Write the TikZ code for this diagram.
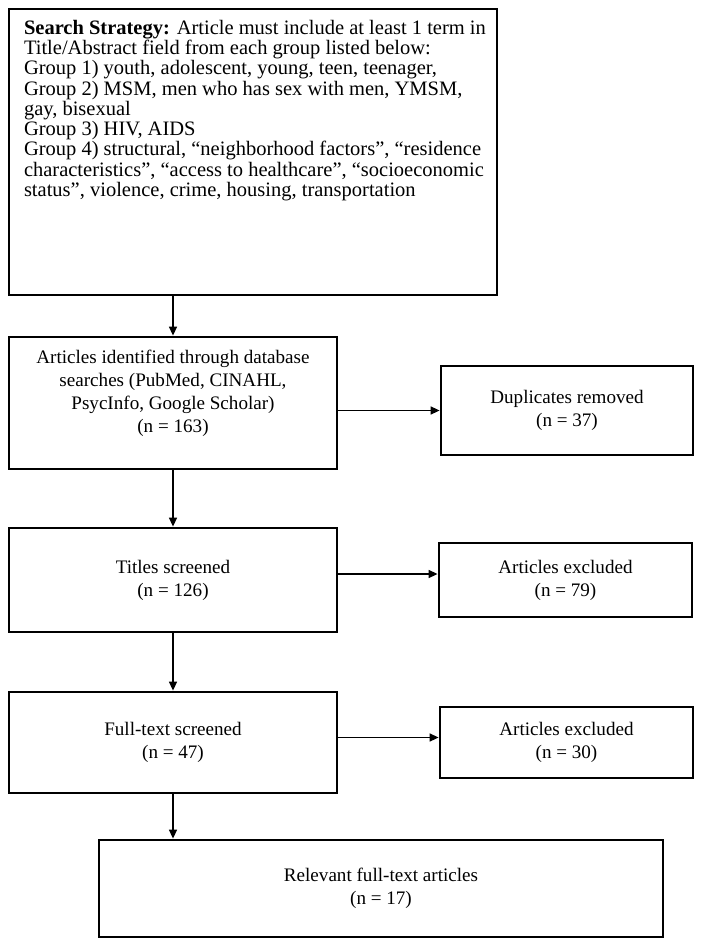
\documentclass[tikz,border=0pt]{standalone}
\usepackage{fontspec}
\setmainfont{Liberation Serif}
\usetikzlibrary{arrows.meta}

\begin{document}
\begin{tikzpicture}[x=1pt,y=-1pt]
\useasboundingbox (0,0) rectangle (704,947);
\begin{scope}[every node/.style={rectangle,draw,line width=2.8pt,inner sep=0pt,align=center,
                                 font=\fontsize{19.1}{23}\selectfont}]
    \node[minimum width=488pt,minimum height=286pt] (search) at (253,152)
        {\parbox[c][264pt][t]{458pt}{\fontsize{20.5}{20}\selectfont\begin{tabular}[t]{@{}l@{}}
        \textbf{Search Strategy:} Article must include at least 1 term in\\
        Title/Abstract field from each group listed below:\\
        Group 1) youth, adolescent, young, teen, teenager,\\
        Group 2) MSM, men who has sex with men, YMSM,\\
        gay, bisexual\\
        Group 3) HIV, AIDS\\
        Group 4) structural, “neighborhood factors”, “residence\\
        characteristics”, “access to healthcare”, “socioeconomic\\
        status”, violence, crime, housing, transportation
        \end{tabular}}};
    \node[minimum width=328pt,minimum height=132pt] (ident) at (173,403)
        {Articles identified through database\\searches (PubMed, CINAHL,\\PsycInfo, Google Scholar)\\(n = 163)\\\mbox{}};
    \node[minimum width=252pt,minimum height=89pt] (dup) at (567,410.5) {Duplicates removed\\(n = 37)};
    \node[minimum width=328pt,minimum height=104pt] (titles) at (173,580) {Titles screened\\(n = 126)};
    \node[minimum width=253pt,minimum height=74pt] (excla) at (565.5,580) {Articles excluded\\(n = 79)};
    \node[minimum width=328pt,minimum height=101pt] (full) at (173,742.5) {Full-text screened\\(n = 47)};
    \node[minimum width=253pt,minimum height=71pt] (exclb) at (566.5,742.5) {Articles excluded\\(n = 30)};
    \node[minimum width=564pt,minimum height=97pt] (relevant) at (381,888.5) {Relevant full-text articles\\(n = 17)};
\end{scope}

\begin{scope}[>={Triangle[length=9pt,width=8pt]},
              every edge/.style={draw=black,line width=1.5pt}]
    \path [->] (search.south -| ident.north) edge (ident.north);
    \path [->] (ident.east |- dup.west) edge (dup.west);
    \path [->] (ident.south) edge (titles.north);

    \path [->] ([yshift=6pt]excla.west -| titles.east) edge ([yshift=6pt]excla.west);
    \path [->] (titles.south) edge (full.north);

    \path [->] ([yshift=5pt]exclb.west -| full.east) edge ([yshift=5pt]exclb.west);
    \path [->] (full.south) edge (full.south |- relevant.north);
\end{scope}
\end{tikzpicture}
\end{document}
